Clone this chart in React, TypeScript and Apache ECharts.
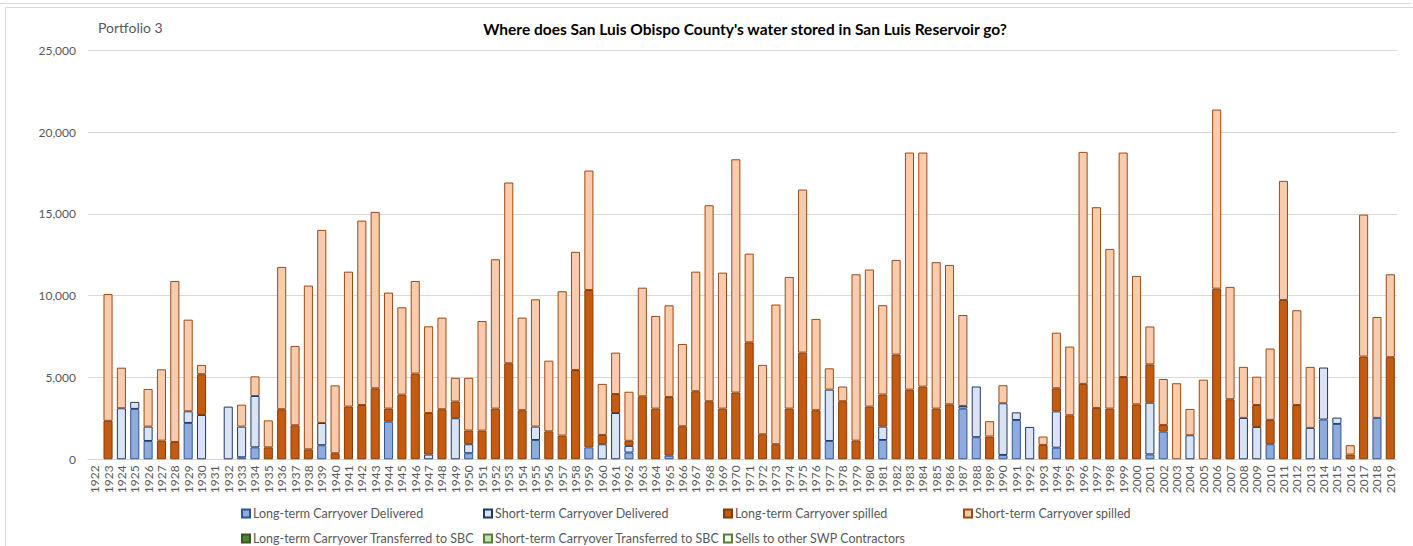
import React, { useEffect, useRef } from "react";
import * as echarts from "echarts";

const years: string[] = Array.from({ length: 98 }, (_, i) => String(1922 + i));

const ltDelivered = [
  0, 0, 0, 3080, 1120, 0, 0, 2220, 0, 0,
  0, 120, 730, 0, 0, 0, 0, 860, 0, 0,
  0, 0, 2300, 0, 0, 0, 0, 0, 370, 0,
  0, 0, 0, 1180, 0, 0, 0, 730, 0, 0,
  410, 0, 0, 220, 0, 0, 0, 0, 0, 0,
  0, 0, 0, 0, 0, 1120, 0, 0, 0, 1180,
  0, 0, 0, 0, 0, 3100, 1350, 0, 265, 2400,
  0, 0, 710, 0, 0, 0, 0, 0, 0, 300,
  1690, 0, 0, 0, 0, 0, 0, 0, 920, 0,
  0, 0, 2430, 2160, 0, 0, 2530, 0,
];

const stDelivered = [
  0, 0, 3120, 430, 880, 0, 0, 715, 2710, 0,
  3220, 1880, 3140, 0, 0, 0, 0, 1360, 0, 0,
  0, 0, 0, 0, 0, 290, 0, 2510, 550, 0,
  0, 0, 0, 820, 0, 0, 0, 0, 920, 2830,
  410, 0, 0, 0, 0, 0, 0, 0, 0, 0,
  0, 0, 0, 0, 0, 3140, 0, 0, 0, 820,
  0, 0, 0, 0, 0, 160, 3100, 0, 3160, 470,
  1980, 0, 2220, 0, 0, 0, 0, 0, 0, 3160,
  0, 0, 1470, 0, 0, 0, 2530, 1980, 0, 0,
  0, 1920, 3180, 390, 0, 0, 0, 0,
];

const ltSpilled = [
  0, 2350, 0, 0, 0, 1140, 1060, 0, 2490, 0,
  0, 0, 0, 730, 3060, 2080, 610, 0, 370, 3220,
  3320, 4340, 800, 3950, 5240, 2540, 3060, 1020, 840, 1750,
  3100, 5870, 3000, 0, 1710, 1450, 5460, 9620, 570, 1160,
  310, 3850, 3100, 3590, 2020, 4160, 3550, 3100, 4080, 7150,
  1530, 920, 3100, 6520, 3000, 0, 3550, 1140, 3220, 1960,
  6400, 4260, 4440, 3100, 3360, 0, 0, 1390, 0, 0,
  0, 880, 1410, 2690, 4610, 3140, 3100, 5030, 3360, 2340,
  410, 0, 0, 0, 10430, 3670, 0, 1340, 1490, 9740,
  3320, 0, 0, 0, 290, 6280, 0, 6240,
];

const stSpilled = [
  0, 7750, 2480, 0, 2300, 4360, 9840, 5600, 570, 0,
  0, 1340, 1200, 1650, 8700, 4850, 10010, 11800, 4150, 8250,
  11270, 10780, 7090, 5340, 5660, 5300, 5600, 1450, 3220, 6700,
  9130, 11050, 5660, 7780, 4320, 8820, 7220, 7300, 3120, 2530,
  3000, 6640, 5660, 5600, 5030, 7310, 11980, 8310, 14260, 5420,
  4240, 8540, 8050, 9970, 5580, 1300, 900, 10170, 8380, 5460,
  5790, 14490, 14310, 8950, 8520, 5560, 0, 940, 1100, 0,
  0, 510, 3400, 4200, 14180, 12270, 9760, 13720, 7850, 2320,
  2810, 4650, 1610, 4870, 10950, 6870, 3120, 1730, 4360, 7280,
  5790, 3730, 0, 0, 570, 8680, 6170, 5070,
];

const ltTransferred: number[] = [];
const stTransferred: number[] = [];
const sellsSWP: number[] = [];

const yTicks = [0, 5000, 10000, 15000, 20000, 25000];

const FONT = "Lato, 'Liberation Sans', sans-serif";
const GRAY = "#595959";

const seriesDefs = [
  { name: "Long-term Carryover Delivered", data: ltDelivered, fill: "#8faadc", border: "#2f5597" },
  { name: "Short-term Carryover Delivered", data: stDelivered, fill: "#dae3f3", border: "#203864" },
  { name: "Long-term Carryover spilled", data: ltSpilled, fill: "#c55a11", border: "#843c0c" },
  { name: "Short-term Carryover spilled", data: stSpilled, fill: "#f8cbad", border: "#9e4a14" },
  { name: "Long-term Carryover Transferred to SBC", data: ltTransferred, fill: "#548235", border: "#385723" },
  { name: "Short-term Carryover Transferred to SBC", data: stTransferred, fill: "#c5e0b4", border: "#548235" },
  { name: "Sells to other SWP Contractors", data: sellsSWP, fill: "#f2f9ee", border: "#548235" },
];

const legendPos = [
  { left: 241, top: 507 },
  { left: 483, top: 507 },
  { left: 723, top: 507 },
  { left: 963, top: 507 },
  { left: 241, top: 532 },
  { left: 483, top: 532 },
  { left: 723, top: 532 },
];

export default function App() {
  const ref = useRef<HTMLDivElement>(null);

  useEffect(() => {
    if (!ref.current) return;
    const chart = echarts.init(ref.current, undefined, { renderer: "svg" });

    const option: any = {
      animation: false,
      backgroundColor: "#ffffff",
      textStyle: { fontFamily: FONT },
      grid: { left: 88, right: 16, top: 50.3, bottom: 86.7, containLabel: false },
      graphic: [
        { type: "line", shape: { x1: 0, y1: 3.5, x2: 1411, y2: 3.5 }, style: { stroke: "#d9d9d9", lineWidth: 1 } },
        { type: "rect", shape: { x: 5.5, y: 7.5, width: 1420, height: 560 }, style: { fill: "none", stroke: "#d9d9d9", lineWidth: 1 } },
        {
          type: "text",
          x: 98,
          y: 27,
          style: { text: "Portfolio 3", fontSize: 14, fill: GRAY, fontFamily: FONT, align: "left", verticalAlign: "middle" },
        },
        {
          type: "text",
          x: 745,
          y: 29,
          style: {
            text: "Where does San Luis Obispo County's water stored in San Luis Reservoir go?",
            fontSize: 15.5,
            fontWeight: "bold",
            fill: "#000000",
            fontFamily: FONT,
            align: "center",
            verticalAlign: "middle",
          },
        },
      ],
      legend: seriesDefs.map((s, i) => ({
        data: [s.name],
        left: legendPos[i].left,
        top: legendPos[i].top,
        padding: 0,
        itemGap: 0,
        itemWidth: 8,
        itemHeight: 8,
        icon: "rect",
        selectedMode: false,
        textStyle: { fontSize: 12.5, color: GRAY, fontFamily: FONT, padding: [0, 0, 0, -2] },
      })),
      xAxis: {
        type: "category",
        data: years,
        axisLine: { lineStyle: { color: "#d9d9d9", width: 1 } },
        axisTick: { show: false },
        axisLabel: { interval: 0, rotate: 90, fontSize: 12, color: GRAY, fontFamily: FONT, margin: 6 },
      },
      yAxis: {
        type: "value",
        min: yTicks[0],
        max: yTicks[yTicks.length - 1],
        interval: 5000,
        axisLine: { show: false },
        axisTick: { show: false },
        splitLine: { lineStyle: { color: "#d9d9d9", width: 1 } },
        axisLabel: {
          fontSize: 12,
          color: GRAY,
          fontFamily: FONT,
          margin: 12,
          formatter: (v: number) => v.toLocaleString("en-US"),
        },
      },
      series: seriesDefs.map((s) => ({
        name: s.name,
        type: "bar",
        stack: "total",
        barCategoryGap: "32%",
        data: s.data.map((v) => (v === 0 ? null : v)),
        itemStyle: { color: s.fill, borderColor: s.border, borderWidth: 1 },
        emphasis: { disabled: true },
      })),
    };

    chart.setOption(option);
    return () => chart.dispose();
  }, []);

  return (
    <div
      ref={ref}
      style={{ position: "absolute", left: 0, top: 0, width: 1413, height: 546 }}
    />
  );
}
